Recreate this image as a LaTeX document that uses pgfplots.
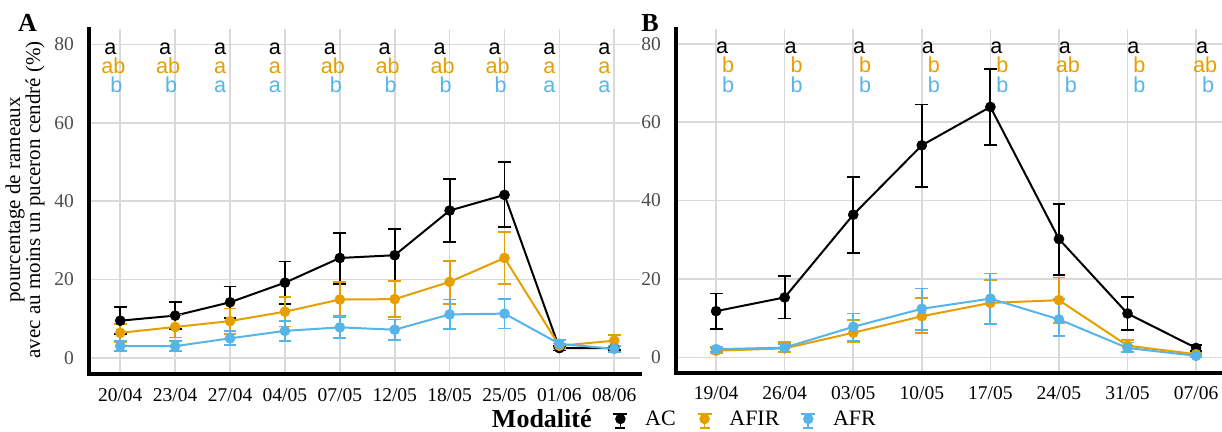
\documentclass[border=0pt]{standalone}
\usepackage{fontspec}
\setmainfont{Liberation Serif}
\newfontfamily\lettersf{Liberation Sans}
\usepackage{pgfplots}
\usepackage{pgfplotstable}
\pgfplotsset{compat=1.18}
\definecolor{afir}{HTML}{E69F00}
\definecolor{afr}{HTML}{56B4E9}
\definecolor{gridc}{HTML}{D9D9D9}
\definecolor{ytxt}{HTML}{4D4D4D}

% Panel A
\pgfplotstableread{
x y ep em
0 9.5 3.4 3.4
1 10.8 3.4 3.4
2 14.2 4.0 4.0
3 19.2 5.4 5.4
4 25.5 6.4 6.6
5 26.2 6.7 6.7
6 37.6 8.0 8.1
7 41.6 8.3 8.1
8 2.5 0.6 0.6
9 2.5 0.5 0.5
}\AtAC
\pgfplotstableread{
x y ep em
0 6.4 2.3 2.3
1 7.9 3.0 2.7
2 9.4 3.2 3.2
3 11.8 3.8 3.8
4 14.9 4.5 4.2
5 15.0 4.7 4.5
6 19.4 5.4 5.6
7 25.5 6.7 6.6
8 3.1 0.6 0.6
9 4.4 1.5 1.5
}\AtAFIR
\pgfplotstableread{
x y ep em
0 3.0 1.3 1.3
1 3.0 1.3 1.3
2 5.0 1.8 1.8
3 6.9 2.6 2.6
4 7.8 2.7 2.7
5 7.2 2.6 2.6
6 11.1 3.8 3.8
7 11.3 3.8 3.8
8 3.6 1.0 1.0
9 2.3 0.7 0.7
}\AtAFR
% Panel B
\pgfplotstableread{
x y ep em
0 11.8 4.5 4.5
1 15.3 5.5 5.4
2 36.4 9.6 9.7
3 54.1 10.4 10.6
4 63.9 9.7 9.8
5 30.2 8.9 9.1
6 11.2 4.3 4.2
7 2.4 0.8 0.8
}\BtAC
\pgfplotstableread{
x y ep em
0 1.7 0.6 0.6
1 2.3 1.6 1.0
2 6.3 3.2 2.4
3 10.5 4.6 4.2
4 13.9 5.9 5.3
5 14.6 5.8 5.8
6 3.0 1.5 1.6
7 0.8 0.4 0.4
}\BtAFIR
\pgfplotstableread{
x y ep em
0 2.1 0.7 0.7
1 2.5 1.0 1.0
2 7.8 3.4 3.7
3 12.4 5.2 5.4
4 15.0 6.4 6.4
5 9.7 5.3 4.2
6 2.4 1.4 1.1
7 0.4 0.3 0.3
}\BtAFR

\pgfplotsset{
  series/.style={forget plot, color=#1, line width=1pt, mark=*, mark size=2.5pt,
    mark options={solid, fill=#1, draw=#1, line width=0.3pt},
    error bars/.cd, y dir=both, y explicit,
    error bar style={line width=0.9pt, color=#1},
    error mark options={rotate=90, line width=0.9pt, mark size=3.2pt, color=#1}},
  panel/.style={
    scale only axis, clip=false,
    axis x line*=bottom, axis y line*=left,
    axis line style={-, line width=2pt, line cap=rect},
    grid=major, major grid style={draw=gridc, line width=0.8pt},
    major tick length=0pt,
    ytick={0,20,40,60,80},
    /pgf/number format/assume math mode=true,
    yticklabel style={font=\fontsize{9.75}{10}\selectfont, text=ytxt, xshift=-4pt},
    xticklabel style={font=\fontsize{9.75}{10}\selectfont, text=black, yshift=-3.5pt},
    xtick=data,
  },
}
\tikzset{
  lt/.style={anchor=base, inner sep=0pt, font=\lettersf\fontsize{10.8}{11}\selectfont},
  tag/.style={anchor=center, inner sep=0pt, font=\fontsize{13}{13}\selectfont\bfseries},
}
\newcommand{\As}{a\kern0.278em}
\newcommand{\sB}{\kern0.278em b}
\newcommand{\cld}[4]{%
  \node[lt, text=black] at (axis cs:#1,77.5) {#2};
  \node[lt, text=afir] at (axis cs:#1,72.6) {#3};
  \node[lt, text=afr] at (axis cs:#1,67.7) {#4};}
\newcommand{\legicon}[1]{%
  \draw[#1, line width=0.8pt] (4pt,-4pt) -- (4pt,3pt);
  \draw[#1, line width=0.8pt] (0.5pt,3pt) -- (7.5pt,3pt) (1.5pt,-4pt) -- (6.5pt,-4pt);
  \fill[#1] (4pt,0.5pt) circle (2.4pt);}

\begin{document}
\begin{tikzpicture}
\begin{axis}[panel,
  at={(44.5pt,29pt)}, anchor=south west,
  width=275.25pt, height=172.35pt,
  xmin=-0.57, xmax=9.46, ymin=-4.1, ymax=83.85,
  xticklabels={20/04,23/04,27/04,04/05,07/05,12/05,18/05,25/05,01/06,08/06},
  ylabel={pourcentage de rameaux\\avec au moins un puceron cendré (\%)},
  ylabel style={at={(axis description cs:-0.116,0.505)}, anchor=center, align=center,
    font=\fontsize{10.5}{10}\selectfont},
  legend columns=4,
  legend style={at={(rel axis cs:0.724,-0.1335)}, anchor=west, draw=none, fill=none,
    inner sep=0pt, font=\fontsize{11}{11}\selectfont,
    /tikz/every odd column/.append style={column sep=6.5pt},
    /tikz/every even column/.append style={column sep=8.5pt}},
]
\addplot[series=black] table[x=x,y=y,y error plus=ep,y error minus=em] {\AtAC};
\addplot[series=afir] table[x=x,y=y,y error plus=ep,y error minus=em] {\AtAFIR};
\addplot[series=afr] table[x=x,y=y,y error plus=ep,y error minus=em] {\AtAFR};
\addlegendimage{empty legend}\addlegendentry{\hspace*{-6.5pt}\fontsize{13}{13}\selectfont\bfseries Modalité}
\addlegendimage{legend image code/.code={\legicon{black}}}\addlegendentry{AC}
\addlegendimage{legend image code/.code={\legicon{afir}}}\addlegendentry{AFIR}
\addlegendimage{legend image code/.code={\legicon{afr}}}\addlegendentry{AFR}
\cld{-0.127}{\As}{ab}{\sB}
\cld{0.873}{\As}{ab}{\sB}
\cld{1.873}{\As}{\As}{\As}
\cld{2.873}{\As}{\As}{\As}
\cld{3.873}{\As}{ab}{\sB}
\cld{4.873}{\As}{ab}{\sB}
\cld{5.873}{\As}{ab}{\sB}
\cld{6.873}{\As}{ab}{\sB}
\cld{7.873}{\As}{\As}{\As}
\cld{8.873}{\As}{\As}{\As}
\node[tag] at (rel axis cs:-0.1117,1.0174) {A};
\end{axis}

\begin{axis}[panel,
  at={(338pt,29.65pt)}, anchor=south west,
  width=273pt, height=171.7pt,
  xmin=-0.585, xmax=7.378, ymin=-3.9, ymax=83.7,
  xticklabels={19/04,26/04,03/05,10/05,17/05,24/05,31/05,07/06},
]
\addplot[series=black] table[x=x,y=y,y error plus=ep,y error minus=em] {\BtAC};
\addplot[series=afir] table[x=x,y=y,y error plus=ep,y error minus=em] {\BtAFIR};
\addplot[series=afr] table[x=x,y=y,y error plus=ep,y error minus=em] {\BtAFR};
\cld{0.131}{\As}{\sB}{\sB}
\cld{1.131}{\As}{\sB}{\sB}
\cld{2.131}{\As}{\sB}{\sB}
\cld{3.131}{\As}{\sB}{\sB}
\cld{4.131}{\As}{\sB}{\sB}
\cld{5.131}{\As}{ab}{\sB}
\cld{6.131}{\As}{\sB}{\sB}
\cld{7.131}{\As}{ab}{\sB}
\node[tag] at (rel axis cs:-0.0476,1.0175) {B};
\end{axis}
\pgfresetboundingbox
\path[use as bounding box] (0,0) rectangle (611pt,216pt);
\end{tikzpicture}
\end{document}
